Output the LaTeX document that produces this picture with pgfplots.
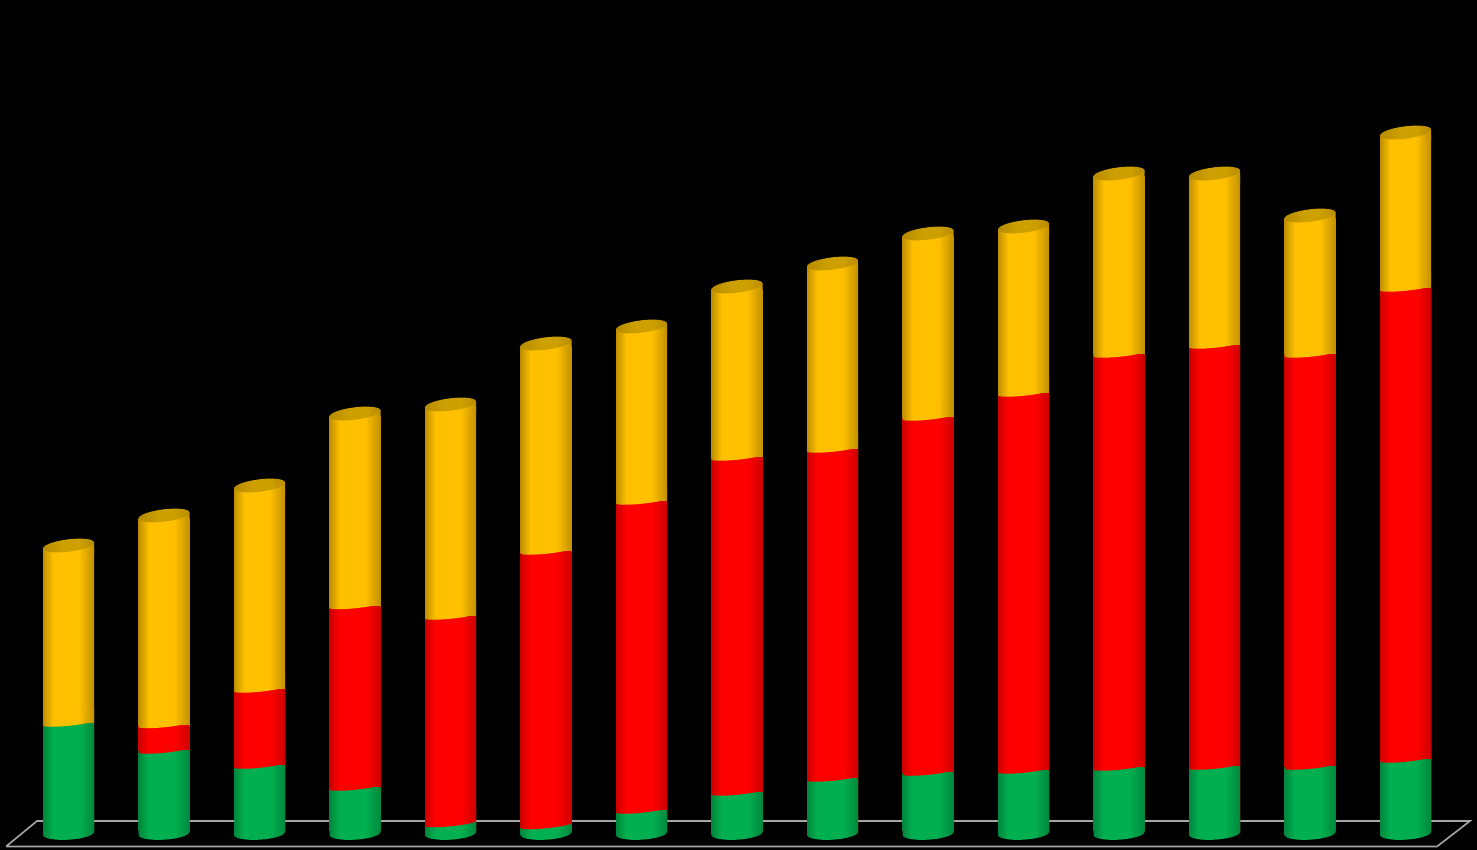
\documentclass[border=0pt]{standalone}
\usepackage{pgfplots}
\usepackage{pgfplotstable}
\pgfplotsset{compat=1.18}
\definecolor{oE}{RGB}{192,144,0}\definecolor{oB}{RGB}{255,192,0}
\definecolor{rE}{RGB}{205,0,0}\definecolor{rB}{RGB}{255,0,0}
\definecolor{gE}{RGB}{0,135,60}\definecolor{gB}{RGB}{0,176,80}
\definecolor{cE}{RGB}{185,140,0}\definecolor{cB}{RGB}{205,160,0}
\definecolor{floorc}{RGB}{166,166,166}
\pgfdeclarehorizontalshading{cylO}{100bp}{color(0bp)=(oE); color(25bp)=(oE); color(35bp)=(oB); color(60bp)=(oB); color(75bp)=(oE); color(100bp)=(oE)}
\pgfdeclarehorizontalshading{cylR}{100bp}{color(0bp)=(rE); color(25bp)=(rE); color(35bp)=(rB); color(60bp)=(rB); color(75bp)=(rE); color(100bp)=(rE)}
\pgfdeclarehorizontalshading{cylG}{100bp}{color(0bp)=(gE); color(25bp)=(gE); color(35bp)=(gB); color(60bp)=(gB); color(75bp)=(gE); color(100bp)=(gE)}
\pgfdeclarehorizontalshading{cylC}{100bp}{color(0bp)=(cE); color(25bp)=(cE); color(45bp)=(cB); color(60bp)=(cB); color(75bp)=(cE); color(100bp)=(cE)}
% front arc of the tilted ellipse, from its right end to its left end
\newcommand{\frontarc}{(25.5pt,3pt) .. controls (25.5pt,-0.42pt) and (14.08pt,-4.54pt) .. (0pt,-6.2pt) .. controls (-14.08pt,-7.86pt) and (-25.5pt,-6.42pt) .. (-25.5pt,-3pt)}
% the flatter arc where two segments meet
\newcommand{\seamarc}{(25.5pt,2.5pt) .. controls (25.5pt,0.95pt) and (14.08pt,-1.39pt) .. (0pt,-2.8pt) .. controls (-14.08pt,-4.21pt) and (-25.5pt,-4.05pt) .. (-25.5pt,-2.5pt)}
% the foot of a cylinder
\newcommand{\basearc}{(25.5pt,1.5pt) .. controls (25.5pt,-1.9pt) and (14.08pt,-5.4pt) .. (0pt,-6.2pt) .. controls (-14.08pt,-7pt) and (-25.5pt,-4.9pt) .. (-25.5pt,-1.5pt)}
\newcommand{\capshape}[1]{\path[draw=none,shade,shading=#1] \seamarc -- (-25.5pt,9pt) -- (25.5pt,15pt) -- cycle;}
\pgfdeclareplotmark{capO}{\capshape{cylO}}
\pgfdeclareplotmark{capR}{\capshape{cylR}}
\pgfdeclareplotmark{capG}{\path[draw=none,shade,shading=cylG] \basearc -- (-25.5pt,9pt) -- (25.5pt,15pt) -- cycle;}
\pgfdeclareplotmark{capT}{%
  \path[draw=none,shade,shading=cylO] (-25.5pt,-15pt) -- (25.5pt,-9pt) -- (25.5pt,3pt) -- (-25.5pt,-3pt) -- cycle;
  \path[draw=none,shade,shading=cylC] \frontarc .. controls (-25.5pt,0.42pt) and (-14.08pt,4.54pt) .. (0pt,6.2pt) .. controls (14.08pt,7.86pt) and (25.5pt,6.42pt) .. (25.5pt,3pt) -- cycle;}
\pgfplotsset{
  barO/.style={ybar,bar width=51,bar shift=0pt,draw=none,shade,shading=cylO},
  barR/.style={ybar,bar width=51,bar shift=0pt,draw=none,shade,shading=cylR},
  barG/.style={ybar,bar width=51,bar shift=0pt,draw=none,shade,shading=cylG},
}
\begin{document}
\begin{tikzpicture}
\begin{axis}[
  x=1pt,y=1pt,scale only axis,
  xmin=0,xmax=1477,ymin=-19.5,ymax=830.5,
  ticks=none,axis line style={draw=none},
  axis background/.style={fill=black},
  clip=true,
]
% floor
\addplot[draw=floorc,line width=1.6pt] coordinates
 {(6,-16) (37,9.5) (1470,9.5) (1437,-16) (6,-16)};
% bars: cumulative heights, one plot for each cylinder
\addplot[barO] coordinates {(68.5,281.5)};
\addplot[barO] coordinates {(164,311.5)};
\addplot[barO] coordinates {(259.5,341.5)};
\addplot[barO] coordinates {(355,413.5)};
\addplot[barO] coordinates {(450.5,422.5)};
\addplot[barO] coordinates {(546,483.5)};
\addplot[barO] coordinates {(641.5,500.5)};
\addplot[barO] coordinates {(737,540.5)};
\addplot[barO] coordinates {(832.5,563.5)};
\addplot[barO] coordinates {(928,593.5)};
\addplot[barO] coordinates {(1023.5,600.5)};
\addplot[barO] coordinates {(1119,653.5)};
\addplot[barO] coordinates {(1214.5,653.5)};
\addplot[barO] coordinates {(1310,611.5)};
\addplot[barO] coordinates {(1405.5,694.5)};
\addplot[barR] coordinates {(164,105)};
\addplot[barR] coordinates {(259.5,140.5)};
\addplot[barR] coordinates {(355,224)};
\addplot[barR] coordinates {(450.5,213.5)};
\addplot[barR] coordinates {(546,278.5)};
\addplot[barR] coordinates {(641.5,328.5)};
\addplot[barR] coordinates {(737,372.5)};
\addplot[barR] coordinates {(832.5,380.5)};
\addplot[barR] coordinates {(928,412.5)};
\addplot[barR] coordinates {(1023.5,436.5)};
\addplot[barR] coordinates {(1119,475.5)};
\addplot[barR] coordinates {(1214.5,484.5)};
\addplot[barR] coordinates {(1310,475.5)};
\addplot[barR] coordinates {(1405.5,541.5)};
\addplot[barG] coordinates {(68.5,106.5)};
\addplot[barG] coordinates {(164,79.5)};
\addplot[barG] coordinates {(259.5,64.5)};
\addplot[barG] coordinates {(355,42.5)};
\addplot[barG] coordinates {(450.5,6.5)};
\addplot[barG] coordinates {(546,4.5)};
\addplot[barG] coordinates {(641.5,19.5)};
\addplot[barG] coordinates {(737,37.5)};
\addplot[barG] coordinates {(832.5,51.5)};
\addplot[barG] coordinates {(928,57.5)};
\addplot[barG] coordinates {(1023.5,59.5)};
\addplot[barG] coordinates {(1119,62.5)};
\addplot[barG] coordinates {(1214.5,63.5)};
\addplot[barG] coordinates {(1310,63.5)};
\addplot[barG] coordinates {(1405.5,70.5)};
% base of the cylinders
\addplot[only marks,mark=capG] coordinates {
(68.5,-3)(164,-3)(259.5,-3)(355,-3)(450.5,-3)(546,-3)(641.5,-3)(737,-3)(832.5,-3)(928,-3)(1023.5,-3)(1119,-3)(1214.5,-3)(1310,-3)(1405.5,-3)};
% red over green
\addplot[only marks,mark=capR] coordinates {
(164,80.5)(259.5,65.5)(355,43.5)(450.5,7)(546,5)(641.5,20.5)(737,38.5)(832.5,52.5)(928,58.5)(1023.5,60.5)(1119,63.5)(1214.5,64.5)(1310,64.5)(1405.5,71.5)};
% orange over red
\addplot[only marks,mark=capO] coordinates {
(68.5,107.5)(164,106)(259.5,141.5)(355,225)(450.5,214.5)(546,279.5)(641.5,329.5)(737,373.5)(832.5,381.5)(928,413.5)(1023.5,437.5)(1119,476.5)(1214.5,485.5)(1310,476.5)(1405.5,542.5)};
% top
\addplot[only marks,mark=capT] coordinates {
(68.5,285)(164,315)(259.5,345)(355,417)(450.5,426)(546,487)(641.5,504)(737,544)(832.5,567)(928,597)(1023.5,604)(1119,657)(1214.5,657)(1310,615)(1405.5,698)};
\end{axis}
\end{tikzpicture}
\end{document}
